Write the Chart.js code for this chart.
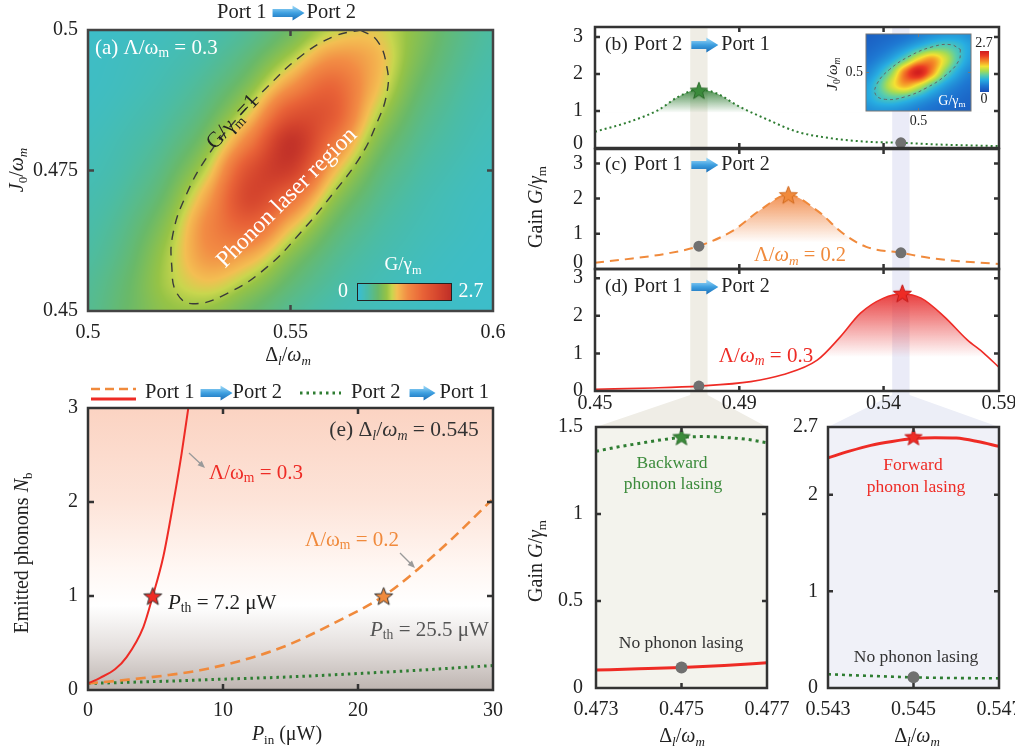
<!DOCTYPE html>
<html>
<head>
<meta charset="utf-8">
<script src="https://cdn.jsdelivr.net/npm/chart.js@4.4.1/dist/chart.umd.min.js"></script>
<style>
html, body { margin: 0; padding: 0; background: #fff; overflow: hidden; }
#wrap { position: relative; width: 1015px; height: 753px; overflow: hidden; }
</style>
</head>
<body>
<div id="wrap"></div>
<script>
// ---------- data ----------

// (a) gain map G/γm, columns = Δl/ωm, rows = J0/ωm (bottom to top)
const mapX = [0.50, 0.51, 0.52, 0.53, 0.54, 0.55, 0.56, 0.57, 0.58, 0.59, 0.60];
const mapY = [0.450, 0.455, 0.460, 0.465, 0.470, 0.475, 0.480, 0.485, 0.490, 0.495, 0.500];
const mapG = [
  [0.40, 0.61, 0.83, 0.83, 0.61, 0.40, 0.26, 0.18, 0.13, 0.10, 0.08],
  [0.37, 0.59, 0.93, 1.12, 0.88, 0.55, 0.34, 0.22, 0.15, 0.11, 0.09],
  [0.32, 0.53, 0.93, 1.41, 1.29, 0.78, 0.45, 0.28, 0.19, 0.13, 0.10],
  [0.28, 0.46, 0.83, 1.52, 1.85, 1.17, 0.62, 0.36, 0.23, 0.16, 0.11],
  [0.24, 0.38, 0.68, 1.36, 2.30, 1.76, 0.88, 0.47, 0.28, 0.18, 0.13],
  [0.20, 0.31, 0.54, 1.06, 2.18, 2.45, 1.27, 0.62, 0.35, 0.22, 0.15],
  [0.17, 0.26, 0.42, 0.78, 1.63, 2.64, 1.74, 0.83, 0.44, 0.27, 0.18],
  [0.14, 0.21, 0.33, 0.57, 1.11, 2.09, 2.04, 1.07, 0.55, 0.32, 0.21],
  [0.12, 0.17, 0.26, 0.43, 0.76, 1.41, 1.86, 1.25, 0.67, 0.38, 0.24],
  [0.11, 0.15, 0.21, 0.32, 0.54, 0.93, 1.40, 1.26, 0.77, 0.45, 0.28],
  [0.09, 0.12, 0.17, 0.25, 0.39, 0.64, 0.98, 1.09, 0.81, 0.50, 0.31]
];
// G/γm = 1 contour
const ringX = [0.5672, 0.5713, 0.5738, 0.5738, 0.5713, 0.5672, 0.5605, 0.5523, 0.5442, 0.5343, 0.5259,
               0.5220, 0.5207, 0.5210, 0.5244, 0.5294, 0.5358, 0.5442, 0.5523, 0.5605, 0.5672];
const ringY = [0.5000, 0.4982, 0.4934, 0.4888, 0.4834, 0.4774, 0.4709, 0.4638, 0.4578, 0.4531, 0.4513,
               0.4531, 0.4578, 0.4638, 0.4709, 0.4774, 0.4834, 0.4898, 0.4952, 0.4988, 0.5000];
const mapXTicks = [0.5, 0.55, 0.6], mapXLabels = ['0.5', '0.55', '0.6'];
const mapYTicks = [0.45, 0.475, 0.5], mapYLabels = ['0.45', '0.475', '0.5'];

// inset of (b): backward gain map
const insX = [0.45, 0.4625, 0.475, 0.4875, 0.5, 0.5125, 0.525, 0.5375, 0.55];
const insY = [0.45, 0.46667, 0.48333, 0.5, 0.51667, 0.53333, 0.55];
const insG = [
  [0.56, 0.61, 0.59, 0.51, 0.41, 0.32, 0.25, 0.20, 0.16],
  [0.72, 0.94, 1.06, 0.98, 0.77, 0.56, 0.40, 0.30, 0.22],
  [0.69, 1.07, 1.60, 1.93, 1.62, 1.09, 0.70, 0.47, 0.33],
  [0.51, 0.80, 1.33, 2.18, 2.69, 2.05, 1.24, 0.75, 0.48],
  [0.35, 0.50, 0.76, 1.19, 1.76, 2.01, 1.58, 1.03, 0.66],
  [0.23, 0.31, 0.43, 0.60, 0.83, 1.05, 1.11, 0.95, 0.71],
  [0.16, 0.21, 0.26, 0.34, 0.44, 0.54, 0.62, 0.64, 0.57]
];
const insRingX = [0.5399, 0.5385, 0.5267, 0.5075, 0.4863, 0.4686, 0.4591, 0.4606, 0.4724, 0.4915, 0.5128, 0.5305, 0.5399];
const insRingY = [0.5299, 0.5157, 0.4974, 0.4800, 0.4681, 0.4651, 0.4714, 0.4856, 0.5039, 0.5213, 0.5332, 0.5362, 0.5299];

// (b)(c)(d) gain vs detuning
const detTicks = [0.44, 0.49, 0.54, 0.58], detLabels = ['0.45', '0.49', '0.54', '0.59'];
const gainTicks = [0, 1, 2, 3], gainLabels = ['0', '1', '2', '3'];
const bandL = [0.473, 0.479], bandR = [0.543, 0.549];
const bX = [0.44, 0.452, 0.462, 0.469, 0.476, 0.482, 0.49, 0.5, 0.51, 0.522, 0.534, 0.546, 0.557, 0.58];
const bG = [0.44, 0.71, 1.03, 1.39, 1.58, 1.48, 1.12, 0.76, 0.44, 0.26, 0.17, 0.14, 0.10, 0.05];
const cX = [0.44, 0.453, 0.465, 0.476, 0.488, 0.497, 0.507, 0.517, 0.526, 0.534, 0.546, 0.557, 0.58];
const cG = [0.18, 0.30, 0.44, 0.65, 1.10, 1.66, 2.11, 1.66, 1.01, 0.63, 0.46, 0.30, 0.14];
const dX = [0.44, 0.46, 0.476, 0.494, 0.505, 0.517, 0.525, 0.532, 0.54, 0.5465, 0.553, 0.561, 0.569, 0.5747, 0.58];
const dG = [0.045, 0.08, 0.13, 0.25, 0.43, 0.82, 1.44, 2.07, 2.47, 2.58, 2.47, 1.98, 1.36, 1.01, 0.63];
const bStar = [[0.476, 1.56]], bDots = [[0.546, 0.14]];
const cStar = [[0.507, 2.11]], cDots = [[0.476, 0.65], [0.546, 0.46]];
const dStar = [[0.5465, 2.6]], dDots = [[0.476, 0.13]];

// zoomed panels
const zlX = [0.473, 0.4735, 0.474, 0.4745, 0.475, 0.4755, 0.476, 0.4765, 0.477];
const zlGreen = [1.36, 1.385, 1.405, 1.425, 1.44, 1.445, 1.44, 1.43, 1.41];
const zlRedX = [0.473, 0.474, 0.475, 0.476, 0.477];
const zlRed = [0.103, 0.11, 0.118, 0.13, 0.145];
const zlTicks = [0.473, 0.475, 0.477], zlLabels = ['0.473', '0.475', '0.477'];
const zlYTicks = [0, 0.5, 1, 1.5], zlYLabels = ['0', '0.5', '1', '1.5'];
const zrX = [0.543, 0.5435, 0.544, 0.5445, 0.545, 0.5455, 0.546, 0.5465, 0.547];
const zrRed = [2.38, 2.45, 2.51, 2.55, 2.58, 2.59, 2.585, 2.55, 2.50];
const zrGreenX = [0.543, 0.544, 0.545, 0.546, 0.547];
const zrGreen = [0.142, 0.125, 0.11, 0.103, 0.10];
const zrTicks = [0.543, 0.545, 0.547], zrLabels = ['0.543', '0.545', '0.547'];
const zrYTicks = [0, 1, 2, 2.7], zrYLabels = ['0', '1', '2', '2.7'];

// (e) emitted phonons vs input power
const pRed = [0, 0.9, 2, 2.86, 4.1, 4.8, 5.58, 6.32, 6.94, 7.43];
const nRed = [0.07, 0.13, 0.22, 0.35, 0.67, 1.0, 1.42, 1.99, 2.52, 3.0];
const pOrange = [0, 3, 6, 8.3, 12.5, 15, 18.2, 21.9, 24.4, 26.9, 29.9];
const nOrange = [0.07, 0.11, 0.16, 0.21, 0.36, 0.49, 0.71, 1.0, 1.28, 1.6, 2.02];
const pGreen = [0, 5, 10, 15, 20, 25, 30];
const nGreen = [0.07, 0.09, 0.115, 0.14, 0.175, 0.215, 0.26];
const eStars = [[4.8, 1.0], [21.9, 1.0]];
const pTicks = [0, 10, 20, 30], nTicks = [0, 1, 2, 3];

// colour maps (value in G/γm)
const mapStops = [[0, [55, 190, 215]], [0.3, [75, 188, 165]], [0.6, [105, 185, 105]], [0.85, [150, 195, 70]],
  [1.0, [200, 214, 78]], [1.15, [243, 190, 82]], [1.45, [242, 140, 68]], [1.9, [232, 98, 55]], [2.35, [212, 68, 45]], [2.7, [192, 48, 40]]];
const jetStops = [[0, [25, 80, 185]], [0.4, [30, 120, 210]], [0.8, [40, 175, 225]], [1.1, [90, 205, 170]],
  [1.4, [170, 220, 80]], [1.7, [245, 225, 50]], [2.0, [245, 150, 40]], [2.4, [235, 60, 35]], [2.7, [210, 30, 30]]];

// ---------- helpers ----------
const FONT = '"Liberation Serif", "Times New Roman", serif';
Chart.defaults.font.family = FONT;
Chart.defaults.font.size = 20;
Chart.defaults.color = '#222';

function cmap(stops, v) {
  if (v <= stops[0][0]) return stops[0][1];
  for (let k = 1; k < stops.length; k++) {
    if (v <= stops[k][0]) {
      const [a, ca] = stops[k - 1], [b, cb] = stops[k];
      const t = (v - a) / (b - a);
      return [0, 1, 2].map(n => ca[n] + (cb[n] - ca[n]) * t);
    }
  }
  return stops[stops.length - 1][1];
}
function cr(p0, p1, p2, p3, t) {
  return 0.5 * (2 * p1 + (-p0 + p2) * t + (2 * p0 - 5 * p1 + 4 * p2 - p3) * t * t + (-p0 + 3 * p1 - 3 * p2 + p3) * t * t * t);
}

// paints a gridded map into the plot area
function heatPlugin(gx, gy, gv, stops) {
  return {
    id: 'heat',
    beforeDatasetsDraw(chart) {
      const {ctx, chartArea: a, scales} = chart;
      const w = Math.round(a.right - a.left), h = Math.round(a.bottom - a.top);
      const img = ctx.createImageData(w, h);
      const nx = gx.length, ny = gy.length;
      const at = (i, j) => gv[Math.max(0, Math.min(ny - 1, j))][Math.max(0, Math.min(nx - 1, i))];
      for (let py = 0; py < h; py++) {
        const fy = (scales.y.getValueForPixel(a.top + py + 0.5) - gy[0]) / (gy[1] - gy[0]);
        const j = Math.floor(fy), ty = fy - j;
        for (let px = 0; px < w; px++) {
          const fx = (scales.x.getValueForPixel(a.left + px + 0.5) - gx[0]) / (gx[1] - gx[0]);
          const i = Math.floor(fx), tx = fx - i;
          const c4 = [];
          for (let m = -1; m <= 2; m++) c4.push(cr(at(i - 1, j + m), at(i, j + m), at(i + 1, j + m), at(i + 2, j + m), tx));
          const c = cmap(stops, cr(c4[0], c4[1], c4[2], c4[3], ty));
          const k = (py * w + px) * 4;
          img.data[k] = c[0]; img.data[k + 1] = c[1]; img.data[k + 2] = c[2]; img.data[k + 3] = 255;
        }
      }
      ctx.putImageData(img, Math.round(a.left), Math.round(a.top));
    }
  };
}

// box round the plot with inward ticks
const framePlugin = {
  id: 'frame',
  afterDatasetsDraw(chart, args, o) {
    if (!o || o.off) return;
    const {ctx, chartArea: a, scales: {x, y}} = chart;
    const L = o.len === undefined ? 5 : o.len;
    ctx.save();
    ctx.strokeStyle = o.color || '#333';
    ctx.lineWidth = o.width || 2;
    ctx.beginPath();
    x.ticks.forEach(t => {
      const p = x.getPixelForValue(t.value);
      if (p > a.left + 3 && p < a.right - 3) {
        ctx.moveTo(p, a.bottom); ctx.lineTo(p, a.bottom - L);
        ctx.moveTo(p, a.top); ctx.lineTo(p, a.top + L);
      }
    });
    y.ticks.forEach(t => {
      const p = y.getPixelForValue(t.value);
      if (p > a.top + 3 && p < a.bottom - 3) {
        ctx.moveTo(a.left, p); ctx.lineTo(a.left + L, p);
        ctx.moveTo(a.right, p); ctx.lineTo(a.right - L, p);
      }
    });
    ctx.stroke();
    ctx.strokeRect(a.left, a.top, a.right - a.left, a.bottom - a.top);
    ctx.restore();
  }
};

// plot-area background (flat colour or gradient by y value)
const bgPlugin = {
  id: 'bgfill',
  beforeDraw(chart, args, o) {
    if (!o || !o.color) return;
    const {ctx, chartArea: a, scales: {y}} = chart;
    let fill = o.color;
    if (Array.isArray(o.color)) {
      fill = ctx.createLinearGradient(0, a.top, 0, a.bottom);
      o.color.forEach(([v, c]) => {
        fill.addColorStop(Math.max(0, Math.min(1, (y.getPixelForValue(v) - a.top) / (a.bottom - a.top))), c);
      });
    }
    ctx.save();
    ctx.fillStyle = fill;
    ctx.fillRect(a.left, a.top, a.right - a.left, a.bottom - a.top);
    ctx.restore();
  }
};
Chart.register(bgPlugin, framePlugin);

function bandsPlugin(list) {
  return {
    id: 'bands',
    beforeDatasetsDraw(chart) {
      const {ctx, chartArea: a, scales: {x}} = chart;
      ctx.save();
      list.forEach(([r, col]) => {
        const p0 = x.getPixelForValue(r[0]), p1 = x.getPixelForValue(r[1]);
        ctx.fillStyle = col;
        ctx.fillRect(p0, a.top, p1 - p0, a.bottom - a.top);
      });
      ctx.restore();
    }
  };
}

const wrap = document.getElementById('wrap');
function mk(cv, pa, cfg) {
  const el = document.createElement('canvas');
  el.width = cv.w; el.height = cv.h;
  el.style.cssText = `position:absolute;left:${cv.x}px;top:${cv.y}px`;
  wrap.appendChild(el);
  const o = cfg.options;
  Object.assign(o, {responsive: false, animation: false, events: []});
  o.layout = {padding: {top: pa.t - cv.y, right: cv.x + cv.w - pa.r, left: 0, bottom: 0}};
  o.plugins = Object.assign({legend: {display: false}, tooltip: {enabled: false}}, o.plugins || {});
  const xh = cv.y + cv.h - pa.b, yw = pa.l - cv.x;
  o.scales.x.afterFit = s => { s.height = xh; s.paddingLeft = 0; s.paddingRight = 0; };
  o.scales.y.afterFit = s => { s.width = yw; s.paddingTop = 0; s.paddingBottom = 0; };
  return new Chart(el, cfg);
}

function axis(min, max, ticks, labels, o = {}) {
  return {
    type: 'linear', min, max,
    afterBuildTicks: s => { s.ticks = ticks.map(v => ({value: v})); },
    ticks: {
      display: o.show !== false, autoSkip: false, maxRotation: 0, padding: o.pad === undefined ? 8 : o.pad,
      font: o.font, callback: (v, i) => (o.hideFirst && i === 0) ? '' : labels[i]
    },
    grid: {display: false, drawTicks: false},
    border: {display: false}
  };
}

const pts = (xs, ys) => xs.map((x, i) => ({x, y: ys[i]}));
function line(xs, ys, color, w, dash, extra) {
  return Object.assign({
    data: pts(xs, ys), showLine: true, borderColor: color, borderWidth: w, borderDash: dash || [],
    pointRadius: 0, fill: false, cubicInterpolationMode: 'monotone'
  }, extra || {});
}
function marks(list, style, r, color) {
  return {data: list.map(p => ({x: p[0], y: p[1]})), showLine: false, pointStyle: style,
          pointRadius: r, backgroundColor: color, borderWidth: 0};
}
function vgrad(topVal, botVal, rgb, alpha) {
  return c => {
    const ch = c.chart;
    if (!ch.chartArea || !ch.scales.y) return 'rgba(0,0,0,0)';
    const ys = ch.scales.y;
    const g = ch.ctx.createLinearGradient(0, ys.getPixelForValue(topVal), 0, ys.getPixelForValue(botVal));
    g.addColorStop(0, `rgba(${rgb},${alpha})`);
    g.addColorStop(1, `rgba(${rgb},0)`);
    return g;
  };
}
function starImg(fill, stroke, R) {
  const c = document.createElement('canvas');
  const s = Math.ceil(2 * R + 4);
  c.width = c.height = s;
  const g = c.getContext('2d');
  g.translate(s / 2, s / 2 + R * 0.1);
  g.beginPath();
  for (let k = 0; k < 10; k++) {
    const r = k % 2 ? R * 0.42 : R, ang = -Math.PI / 2 + k * Math.PI / 5;
    g.lineTo(r * Math.cos(ang), r * Math.sin(ang));
  }
  g.closePath();
  g.fillStyle = fill; g.fill();
  g.lineWidth = 1; g.strokeStyle = stroke; g.stroke();
  return c;
}

const GREEN = '#2e7d32', ORANGE = '#f08a3c', RED = '#ee2b25', DOT = '#707070';
const BAND_L = 'rgba(214,208,186,0.38)', BAND_R = 'rgba(196,200,232,0.36)';

// ---------- (a) map ----------
mk({x: 0, y: 0, w: 510, h: 370}, {l: 88, t: 30, r: 493, b: 311}, {
  type: 'scatter',
  data: {datasets: [line(ringX, ringY, '#3a3a3a', 1.4, [9, 7], {cubicInterpolationMode: 'default', tension: 0.45})]},
  options: {
    scales: {x: axis(0.5, 0.6, mapXTicks, mapXLabels, {pad: 10}), y: axis(0.45, 0.5, mapYTicks, mapYLabels, {pad: 10})},
    plugins: {frame: {width: 2.5, color: '#444', len: 6}}
  },
  plugins: [heatPlugin(mapX, mapY, mapG, mapStops)]
});

// ---------- (e) phonons ----------
mk({x: 0, y: 370, w: 510, h: 383}, {l: 88, t: 408, r: 493, b: 690}, {
  type: 'scatter',
  data: {datasets: [
    {data: [{x: eStars[0][0], y: eStars[0][1]}], showLine: false, pointStyle: starImg('#ee2b25', '#333', 9.5), pointRadius: 9},
    {data: [{x: eStars[1][0], y: eStars[1][1]}], showLine: false, pointStyle: starImg('#f08a3c', '#333', 9.5), pointRadius: 9},
    line(pRed, nRed, RED, 2, []),
    line(pOrange, nOrange, ORANGE, 2.6, [10, 6]),
    line(pGreen, nGreen, GREEN, 3, [2.5, 4])
  ]},
  options: {
    scales: {x: axis(0, 30, pTicks, ['0', '10', '20', '30'], {pad: 9}), y: axis(0, 3, nTicks, ['0', '1', '2', '3'], {pad: 10})},
    plugins: {
      frame: {width: 2.5, color: '#333', len: 6},
      bgfill: {color: [[3, '#fbd3c2'], [2, '#fde4d9'], [1.3, '#fff7f3'], [0.9, '#ffffff'], [0.45, '#e4dfdd'], [0, '#bdb4b0']]}
    }
  }
});

// ---------- (b)(c)(d) gain curves ----------
function gainChart(cv, pa, max, sets, showX, extraPlugins, hideZero) {
  return mk(cv, pa, {
    type: 'scatter',
    data: {datasets: sets},
    options: {
      scales: {
        x: axis(0.44, 0.58, detTicks, detLabels, {show: showX, pad: 1}),
        y: axis(0, max, gainTicks, gainLabels, {pad: 12, hideFirst: hideZero})
      },
      plugins: {frame: {width: 2.5, color: '#333', len: 5}}
    },
    plugins: [bandsPlugin([[bandL, BAND_L], [bandR, BAND_R]])].concat(extraPlugins || [])
  });
}

gainChart({x: 540, y: 0, w: 475, h: 160}, {l: 595, t: 27, r: 999, b: 148}, 3.27, [
  marks(bStar, starImg('#3b8b3b', '#2a6a2a', 9), 9),
  marks(bDots, 'circle', 5.5, DOT),
  line(bX, bG, GREEN, 2, [2, 3], {fill: {target: {value: 0.95}, below: 'rgba(0,0,0,0)'}, backgroundColor: vgrad(1.6, 0.95, '46,125,50', 0.9)})
], false, [], true);

gainChart({x: 540, y: 140, w: 475, h: 140}, {l: 595, t: 148, r: 999, b: 269}, 3.41, [
  marks(cStar, starImg('#f08a3c', '#d06a20', 9.5), 9),
  marks(cDots, 'circle', 5.5, DOT),
  line(cX, cG, ORANGE, 2, [9, 6], {fill: {target: {value: 0.75}, below: 'rgba(0,0,0,0)'}, backgroundColor: vgrad(2.15, 0.75, '240,130,60', 0.9)})
], false, [], true);

// connector wedges from the bands down to the zoomed panels
const ZL = {l: 596, t: 427, r: 767, b: 688}, ZR = {l: 828, t: 427, r: 999, b: 688};
const dCanvas = {x: 540, y: 260, w: 475, h: 167};
const linkPlugin = {
  id: 'link',
  beforeDraw(chart) {
    const {ctx, chartArea: a, scales: {x}} = chart;
    const zt = ZL.t - dCanvas.y;
    const poly = (band, z, col) => {
      const p0 = x.getPixelForValue(band[0]), p1 = x.getPixelForValue(band[1]);
      ctx.beginPath();
      ctx.moveTo(p0, a.bottom); ctx.lineTo(p1, a.bottom); ctx.lineTo(p1, a.bottom + 4);
      ctx.lineTo(z.r - dCanvas.x, zt); ctx.lineTo(z.l - dCanvas.x, zt); ctx.lineTo(p0, a.bottom + 4);
      ctx.closePath();
      ctx.fillStyle = col; ctx.fill();
    };
    ctx.save();
    poly(bandL, ZL, '#efede6');
    poly(bandR, ZR, '#eceef7');
    ctx.restore();
  }
};
gainChart(dCanvas, {l: 595, t: 269, r: 999, b: 391}, 3.245, [
  marks(dStar, starImg('#ee2b25', '#c01818', 9.5), 9),
  marks(dDots, 'circle', 5.5, DOT),
  line(dX, dG, RED, 1.6, [], {fill: {target: {value: 0.9}, below: 'rgba(0,0,0,0)'}, backgroundColor: vgrad(2.6, 0.9, '230,40,40', 0.9)})
], true, [linkPlugin], false);

// ---------- zoomed panels ----------
mk({x: 520, y: 415, w: 285, h: 338}, ZL, {
  type: 'scatter',
  data: {datasets: [
    marks([[0.475, 1.445]], starImg('#3b8b3b', '#2a6a2a', 9), 9),
    marks([[0.475, 0.118]], 'circle', 6, DOT),
    line(zlX, zlGreen, GREEN, 3, [3, 4]),
    line(zlRedX, zlRed, RED, 3, [])
  ]},
  options: {
    scales: {x: axis(0.473, 0.477, zlTicks, zlLabels, {pad: 10}), y: axis(0, 1.5, zlYTicks, zlYLabels, {pad: 13})},
    plugins: {frame: {width: 2.5, color: '#333', len: 5}, bgfill: {color: '#f3f3ed'}}
  }
});
mk({x: 770, y: 415, w: 260, h: 338}, ZR, {
  type: 'scatter',
  data: {datasets: [
    marks([[0.545, 2.6]], starImg('#ee2b25', '#c01818', 9), 9),
    marks([[0.545, 0.11]], 'circle', 6, DOT),
    line(zrX, zrRed, RED, 3, []),
    line(zrGreenX, zrGreen, GREEN, 2.6, [3, 4])
  ]},
  options: {
    scales: {x: axis(0.543, 0.547, zrTicks, zrLabels, {pad: 10}), y: axis(0, 2.7, zrYTicks, zrYLabels, {pad: 10})},
    plugins: {frame: {width: 2.5, color: '#333', len: 5}, bgfill: {color: '#f0f1f8'}}
  }
});

// ---------- inset of (b) ----------
mk({x: 815, y: 20, w: 180, h: 110}, {l: 866, t: 34, r: 971, b: 111}, {
  type: 'scatter',
  data: {datasets: [line(insRingX, insRingY, '#666', 1, [3, 3], {cubicInterpolationMode: 'default', tension: 0.45})]},
  options: {
    scales: {
      x: axis(0.45, 0.55, [0.5], ['0.5'], {pad: 2, font: {size: 14}}),
      y: axis(0.45, 0.55, [0.5], ['0.5'], {pad: 3, font: {size: 14}})
    },
    plugins: {frame: {width: 1, color: '#777', len: 3}}
  },
  plugins: [heatPlugin(insX, insY, insG, jetStops)]
});

// ---------- text, arrows, colour bars ----------
const ov = document.createElement('canvas');
ov.width = 1015; ov.height = 753;
ov.style.cssText = 'position:absolute;left:0;top:0';
wrap.appendChild(ov);
const g = ov.getContext('2d');

function rich(ctx, x, y, parts, o = {}) {
  const size = o.size || 20;
  const segs = parts.map(p => {
    const t = p[0], f = p[1] || '';
    const sub = f.includes('s'), it = f.includes('i');
    const font = `${it ? 'italic ' : ''}${sub ? size * 0.65 : size}px ${FONT}`;
    ctx.font = font;
    return {t, font, w: ctx.measureText(t).width, dy: sub ? size * 0.28 : 0};
  });
  const W = segs.reduce((s, q) => s + q.w, 0);
  ctx.save();
  ctx.translate(x, y);
  if (o.rot) ctx.rotate(o.rot * Math.PI / 180);
  ctx.fillStyle = o.color || '#222';
  ctx.textBaseline = 'middle';
  let cx = o.align === 'left' ? 0 : o.align === 'right' ? -W : -W / 2;
  segs.forEach(q => { ctx.font = q.font; ctx.fillText(q.t, cx, q.dy); cx += q.w; });
  ctx.restore();
  return W;
}
function blueArrow(ctx, x, y, len) {
  const sh = 4, hh = 7.5, hl = 12;
  const gr = ctx.createLinearGradient(0, y - hh, 0, y + hh);
  gr.addColorStop(0, '#a4dcf8'); gr.addColorStop(0.5, '#3d9fe0'); gr.addColorStop(1, '#1a6cb5');
  ctx.beginPath();
  ctx.moveTo(x, y - sh); ctx.lineTo(x + len - hl, y - sh); ctx.lineTo(x + len - hl, y - hh);
  ctx.lineTo(x + len, y); ctx.lineTo(x + len - hl, y + hh); ctx.lineTo(x + len - hl, y + sh);
  ctx.lineTo(x, y + sh); ctx.closePath();
  ctx.fillStyle = gr; ctx.fill();
}
function port(ctx, x, y, a, b, size, gap, alen, gap2) {
  const w = rich(ctx, x, y, [[a]], {size, align: 'left'});
  blueArrow(ctx, x + w + gap, y, alen);
  rich(ctx, x + w + gap + alen + gap2, y, [[b]], {size, align: 'left'});
}
function grayArrow(ctx, x1, y1, x2, y2) {
  const ang = Math.atan2(y2 - y1, x2 - x1);
  ctx.save();
  ctx.strokeStyle = ctx.fillStyle = '#9a9a9a';
  ctx.lineWidth = 1.3;
  ctx.beginPath(); ctx.moveTo(x1, y1); ctx.lineTo(x2 - 5 * Math.cos(ang), y2 - 5 * Math.sin(ang)); ctx.stroke();
  ctx.beginPath();
  ctx.moveTo(x2, y2);
  ctx.lineTo(x2 - 8 * Math.cos(ang - 0.4), y2 - 8 * Math.sin(ang - 0.4));
  ctx.lineTo(x2 - 8 * Math.cos(ang + 0.4), y2 - 8 * Math.sin(ang + 0.4));
  ctx.closePath(); ctx.fill();
  ctx.restore();
}

const DL = [['Δ'], ['l', 'si'], ['/'], ['ω', 'i'], ['m', 'si']];
const J0 = [['J', 'i'], ['0', 's'], ['/'], ['ω', 'i'], ['m', 'si']];
const GAIN = [['Gain '], ['G', 'i'], ['/'], ['γ', 'i'], ['m', 's']];

// (a)
port(g, 217, 13, 'Port 1', 'Port 2', 20.5, 6, 32, 2);
rich(g, 95, 48, [['(a) Λ/ω'], ['m', 's'], [' = 0.3']], {size: 21, color: '#fff', align: 'left'});
rich(g, 233, 122, [['G/γ'], ['m', 's'], ['=1']], {size: 22, color: '#222', rot: -47});
rich(g, 287, 198, [['Phonon laser region']], {size: 23.5, color: '#fff', rot: -45});
rich(g, 403, 265, [['G/γ'], ['m', 's']], {size: 19, color: '#fff'});
for (let px = 0; px < 94; px++) {
  const c = cmap(mapStops, 2.7 * px / 93);
  g.fillStyle = `rgb(${c[0]},${c[1]},${c[2]})`;
  g.fillRect(357 + px, 283, 1, 17);
}
g.strokeStyle = '#222'; g.lineWidth = 1; g.strokeRect(357.5, 283.5, 94, 17);
rich(g, 343, 292, [['0']], {size: 20, color: '#fff'});
rich(g, 471, 292, [['2.7']], {size: 20, color: '#fff'});
rich(g, 288, 356, DL, {size: 20});
rich(g, 18, 170, J0, {size: 20, rot: -90});

// (b)(c)(d)
rich(g, 605, 45, [['(b)']], {size: 19.5, align: 'left'});
port(g, 634, 45, 'Port 2', 'Port 1', 20, 9, 27, 3);
rich(g, 605, 165, [['(c)']], {size: 19.5, align: 'left'});
port(g, 634, 165, 'Port 1', 'Port 2', 20, 9, 27, 3);
rich(g, 605, 287, [['(d)']], {size: 19.5, align: 'left'});
port(g, 634, 287, 'Port 1', 'Port 2', 20, 9, 27, 3);
rich(g, 800, 256, [['Λ/'], ['ω', 'i'], ['m', 'si'], [' = 0.2']], {size: 20.5, color: ORANGE});
rich(g, 766, 356, [['Λ/'], ['ω', 'i'], ['m', 'si'], [' = 0.3']], {size: 21, color: RED});
rich(g, 583, 144, [[gainLabels[0]]], {size: 20, align: 'right'});
rich(g, 583, 263, [[gainLabels[0]]], {size: 20, align: 'right'});
rich(g, 537, 207, GAIN, {size: 20, rot: -90});

// inset labels and colour bar
rich(g, 833, 74, J0, {size: 15, rot: -90});
rich(g, 952, 101, [['G/γ'], ['m', 's']], {size: 14, color: '#fff'});
for (let py = 0; py < 41; py++) {
  const c = cmap(jetStops, 2.7 * (40 - py) / 40);
  g.fillStyle = `rgb(${c[0]},${c[1]},${c[2]})`;
  g.fillRect(980, 51 + py, 9, 1);
}
rich(g, 984, 43, [['2.7']], {size: 14});
rich(g, 984, 99, [['0']], {size: 14});

// zoomed panels
rich(g, 672, 463, [['Backward']], {size: 17.5, color: '#3b8b3b'});
rich(g, 673, 484, [['phonon lasing']], {size: 17.5, color: '#3b8b3b'});
rich(g, 681, 643, [['No phonon lasing']], {size: 17.5, color: '#333'});
rich(g, 913, 465, [['Forward']], {size: 17.5, color: RED});
rich(g, 916, 487, [['phonon lasing']], {size: 17.5, color: RED});
rich(g, 916, 657, [['No phonon lasing']], {size: 17.5, color: '#333'});
rich(g, 682, 737, DL, {size: 20});
rich(g, 917, 737, DL, {size: 20});
rich(g, 537, 561, GAIN, {size: 20, rot: -90});

// (e) legend and notes
g.save();
g.lineWidth = 2.6; g.strokeStyle = ORANGE; g.setLineDash([9, 5]);
g.beginPath(); g.moveTo(91, 389); g.lineTo(136, 389); g.stroke();
g.setLineDash([]); g.lineWidth = 3; g.strokeStyle = RED;
g.beginPath(); g.moveTo(91, 399); g.lineTo(136, 399); g.stroke();
g.setLineDash([2.5, 4]); g.lineWidth = 3; g.strokeStyle = GREEN;
g.beginPath(); g.moveTo(300, 393); g.lineTo(341, 393); g.stroke();
g.restore();
port(g, 145, 393, 'Port 1', 'Port 2', 20.5, 6, 32, 0);
port(g, 351, 393, 'Port 2', 'Port 1', 20.5, 9, 26, 4);
rich(g, 404, 430, [['(e) Δ'], ['l', 'si'], ['/'], ['ω', 'i'], ['m', 'si'], [' = 0.545']], {size: 21.5, color: '#333'});
rich(g, 256, 473, [['Λ/ω'], ['m', 's'], [' = 0.3']], {size: 21, color: RED});
grayArrow(g, 189, 453, 205, 468);
rich(g, 168, 603, [['P', 'i'], ['th', 's'], [' = 7.2 μW']], {size: 21, align: 'left'});
rich(g, 352, 540, [['Λ/ω'], ['m', 's'], [' = 0.2']], {size: 21, color: ORANGE});
grayArrow(g, 400, 553, 415, 568);
rich(g, 370, 630, [['P', 'i'], ['th', 's'], [' = 25.5 μW']], {size: 21, align: 'left', color: '#555'});
rich(g, 23, 553, [['Emitted phonons '], ['N', 'i'], ['b', 's']], {size: 20, rot: -90});
rich(g, 287, 735, [['P', 'i'], ['in', 's'], [' (μW)']], {size: 20});
</script>
</body>
</html>
